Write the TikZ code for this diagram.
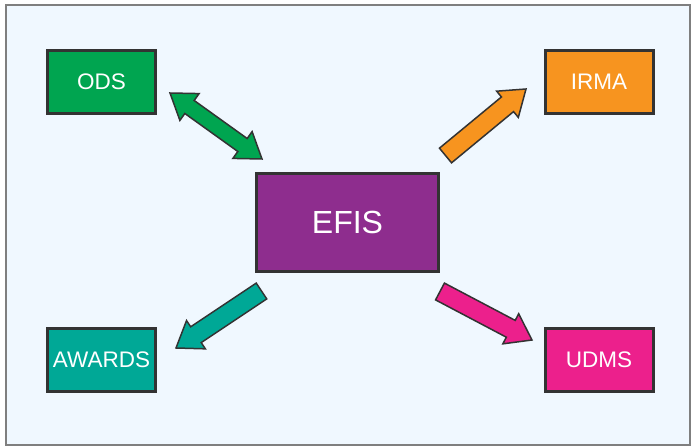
\documentclass[tikz,border=0pt]{standalone}
\usepackage{fontspec}
\setmainfont{Liberation Sans}
\usetikzlibrary{calc}
\definecolor{bgc}{HTML}{F0F8FF}
\definecolor{framec}{HTML}{7F7F7F}
\definecolor{edgec}{HTML}{333333}
\definecolor{odsc}{HTML}{00A550}
\definecolor{irmac}{HTML}{F7941F}
\definecolor{awdc}{HTML}{00A896}
\definecolor{udmc}{HTML}{EC208C}
\definecolor{efisc}{HTML}{8E2D8E}
\tikzset{
  sysbox/.style={draw=edgec, line width=3pt, inner sep=0pt, minimum width=108pt, minimum height=63pt, text=white, font=\fontsize{22.5}{26}\selectfont},
  bigbox/.style={sysbox, minimum width=182pt, minimum height=98pt, font=\fontsize{32}{36}\selectfont},
  blockarrow/.style={draw=edgec, line width=1.5pt, line join=miter}
}
\newcommand{\sarrow}[3]{% tail, tip, colour
  \coordinate (hb) at ($(#2)!24pt!(#1)$);
  \draw[blockarrow, fill=#3]
    ($(#1)!9.5pt!90:(#2)$) -- ($(hb)!9.5pt!-90:(#1)$) -- ($(hb)!17pt!-90:(#1)$) -- (#2)
    -- ($(hb)!17pt!90:(#1)$) -- ($(hb)!9.5pt!90:(#1)$) -- ($(#1)!9.5pt!-90:(#2)$) -- cycle;
}
\newcommand{\darrow}[3]{% end a, end b, colour
  \coordinate (ha) at ($(#1)!24pt!(#2)$);
  \coordinate (hbb) at ($(#2)!24pt!(#1)$);
  \draw[blockarrow, fill=#3]
    ($(ha)!8pt!90:(#2)$) -- ($(hbb)!8pt!-90:(#1)$) -- ($(hbb)!16.5pt!-90:(#1)$) -- (#2)
    -- ($(hbb)!16.5pt!90:(#1)$) -- ($(hbb)!8pt!90:(#1)$) -- ($(ha)!8pt!-90:(#2)$)
    -- ($(ha)!16.5pt!-90:(#2)$) -- (#1) -- ($(ha)!16.5pt!90:(#2)$) -- cycle;
}
\begin{document}
\begin{tikzpicture}[x=1pt,y=-1pt]
\useasboundingbox (0,0) rectangle (697,446);
\draw[framec, line width=1.3pt, fill=bgc] (6,5) rectangle (690,445);
\node[sysbox, fill=odsc] (ods) at (101.5,82) {ODS};
\node[sysbox, fill=irmac] (irma) at (599,82) {IRMA};
\node[sysbox, fill=awdc] (awards) at (101.5,360) {AWARDS};
\node[sysbox, fill=udmc] (udms) at (599,360) {UDMS};
\node[bigbox, fill=efisc] (efis) at (347.5,222.5) {EFIS};
\coordinate (odsA) at (170,93);
\coordinate (odsB) at (262,159);
\coordinate (irT) at (445.5,155.5);
\coordinate (irH) at (526,89);
\coordinate (awT) at (261.5,291);
\coordinate (awH) at (176,348);
\coordinate (udT) at (440,291.5);
\coordinate (udH) at (532,340);
\darrow{odsA}{odsB}{odsc}
\sarrow{irT}{irH}{irmac}
\sarrow{awT}{awH}{awdc}
\sarrow{udT}{udH}{udmc}
\end{tikzpicture}
\end{document}
